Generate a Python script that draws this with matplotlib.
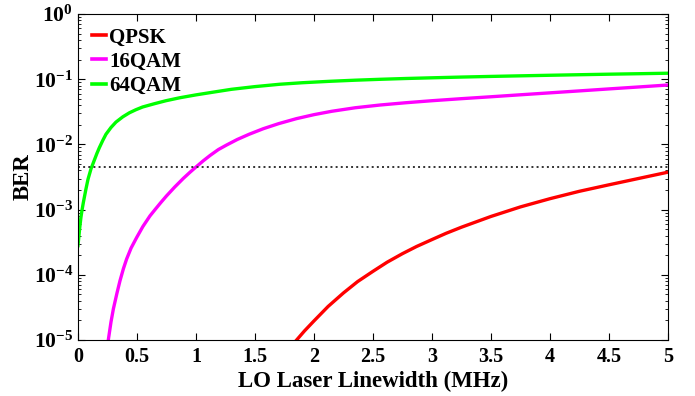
import matplotlib
matplotlib.use('Agg')
import matplotlib.pyplot as plt
from matplotlib.ticker import LogLocator, NullFormatter, FixedLocator

plt.rcParams['font.family'] = 'Liberation Serif'
plt.rcParams['font.weight'] = 'bold'
plt.rcParams['mathtext.fontset'] = 'custom'
plt.rcParams['mathtext.rm'] = 'Liberation Serif:bold'
plt.rcParams['mathtext.bf'] = 'Liberation Serif:bold'
plt.rcParams['mathtext.it'] = 'Liberation Serif:bold'

# LO linewidth (MHz) vs BER
qpsk_x = [1.853, 1.92, 2.0, 2.12, 2.25, 2.37, 2.5, 2.62, 2.75, 2.87, 3.0, 3.12,
          3.25, 3.5, 3.75, 4.0, 4.25, 4.5, 4.75, 5.0]
qpsk_y = [1.0e-5, 1.38e-5, 1.96e-5, 3.27e-5, 5.27e-5, 7.87e-5, 1.13e-4, 1.56e-4,
          2.11e-4, 2.72e-4, 3.47e-4, 4.33e-4, 5.37e-4, 7.85e-4, 1.1e-3, 1.47e-3,
          1.91e-3, 2.4e-3, 3.0e-3, 3.75e-3]

qam16_x = [0.257, 0.28, 0.30, 0.33, 0.356, 0.385, 0.412, 0.45, 0.497, 0.55, 0.61,
           0.653, 0.70, 0.75, 0.82, 0.892, 0.95, 1.0, 1.06, 1.12, 1.19, 1.26, 1.35,
           1.45, 1.57, 1.70, 1.85, 2.0, 2.15, 2.35, 2.56, 2.78, 3.0, 3.25, 3.5, 3.75,
           4.0, 4.25, 4.5, 4.75, 5.0]
qam16_y = [1.0e-5, 1.9e-5, 3.0e-5, 5.2e-5, 8.1e-5, 1.24e-4, 1.74e-4, 2.57e-4,
           3.72e-4, 5.5e-4, 8.0e-4, 1.0e-3, 1.27e-3, 1.62e-3, 2.22e-3, 3.0e-3,
           3.75e-3, 4.5e-3, 5.57e-3, 6.78e-3, 8.34e-3, 9.8e-3, 1.19e-2, 1.43e-2,
           1.74e-2, 2.08e-2, 2.48e-2, 2.86e-2, 3.22e-2, 3.65e-2, 4.02e-2, 4.36e-2,
           4.68e-2, 5.03e-2, 5.38e-2, 5.77e-2, 6.18e-2, 6.62e-2, 7.1e-2, 7.6e-2,
           8.15e-2]

qam64_x = [0.0, 0.015, 0.025, 0.035, 0.045, 0.055, 0.068, 0.085, 0.11, 0.138, 0.16,
           0.181, 0.21, 0.237, 0.28, 0.322, 0.38, 0.435, 0.49, 0.548, 0.65, 0.746,
           0.864, 1.0, 1.15, 1.3, 1.5, 1.71, 1.9, 2.14, 2.35, 2.56, 2.78, 3.0, 3.25,
           3.5, 3.75, 4.0, 4.25, 4.5, 4.75, 5.0]
qam64_y = [2.8e-4, 5.3e-4, 7.6e-4, 1.0e-3, 1.27e-3, 1.58e-3, 2.09e-3, 2.92e-3,
           4.2e-3, 5.7e-3, 7.24e-3, 8.9e-3, 1.15e-2, 1.43e-2, 1.82e-2, 2.2e-2,
           2.65e-2, 3.05e-2, 3.4e-2, 3.75e-2, 4.22e-2, 4.68e-2, 5.2e-2, 5.75e-2,
           6.35e-2, 7.0e-2, 7.7e-2, 8.37e-2, 8.83e-2, 9.3e-2, 9.66e-2, 9.97e-2,
           1.026e-1, 1.051e-1, 1.079e-1, 1.104e-1, 1.127e-1, 1.15e-1, 1.172e-1,
           1.194e-1, 1.214e-1, 1.236e-1]

fec_limit = 4.5e-3

fig = plt.figure(figsize=(6.95, 3.96), dpi=100)
ax = fig.add_axes([0.1122, 0.1414, 0.8488, 0.8232])

ax.plot(qpsk_x, qpsk_y, color='#ff0000', lw=2.4, label='QPSK')
ax.plot(qam16_x, qam16_y, color='#ff00ff', lw=2.4, label='16QAM')
ax.plot(qam64_x, qam64_y, color='#00ff00', lw=2.4, label='64QAM')
ax.axhline(fec_limit, color='#333333', ls=':', lw=1.4)

ax.set_yscale('log')
ax.set_xlim(0, 5)
ax.set_ylim(1e-5, 1)
ax.xaxis.set_major_locator(FixedLocator([0, 0.5, 1, 1.5, 2, 2.5, 3, 3.5, 4, 4.5, 5]))
ax.set_xticklabels(['0', '0.5', '1', '1.5', '2', '2.5', '3', '3.5', '4', '4.5', '5'])
ax.yaxis.set_minor_locator(LogLocator(base=10, subs=range(2, 10), numticks=10))
ax.yaxis.set_minor_formatter(NullFormatter())
ax.set_yticks([1e-5, 1e-4, 1e-3, 1e-2, 1e-1, 1e0])
ax.set_yticklabels([r'$10^{-5}$', r'$10^{-4}$', r'$10^{-3}$', r'$10^{-2}$',
                    r'$10^{-1}$', r'$10^{0}$'])

ax.tick_params(which='both', direction='in', top=True, right=True, labelsize=14.5)
ax.tick_params(which='major', length=5, width=0.8)
ax.tick_params(which='minor', length=2.5, width=0.6)
ax.tick_params(axis='x', pad=5)
ax.tick_params(axis='y', labelsize=15.5)
for s in ax.spines.values():
    s.set_linewidth(0.8)

ax.set_xlabel('LO Laser Linewidth (MHz)', fontsize=16.5, fontweight='bold', labelpad=3)
ax.set_ylabel('BER', fontsize=16.5, fontweight='bold')
ax.yaxis.set_label_coords(-0.075, 0.5)

leg = ax.legend(loc='upper left', bbox_to_anchor=(0.0, 1.0), frameon=False,
                fontsize=15, handlelength=0.7, handletextpad=0.15, labelspacing=0.2,
                borderaxespad=0.35, borderpad=0.3)
for line in leg.get_lines():
    line.set_linewidth(2.6)

fig.savefig('out.png', dpi=100)
